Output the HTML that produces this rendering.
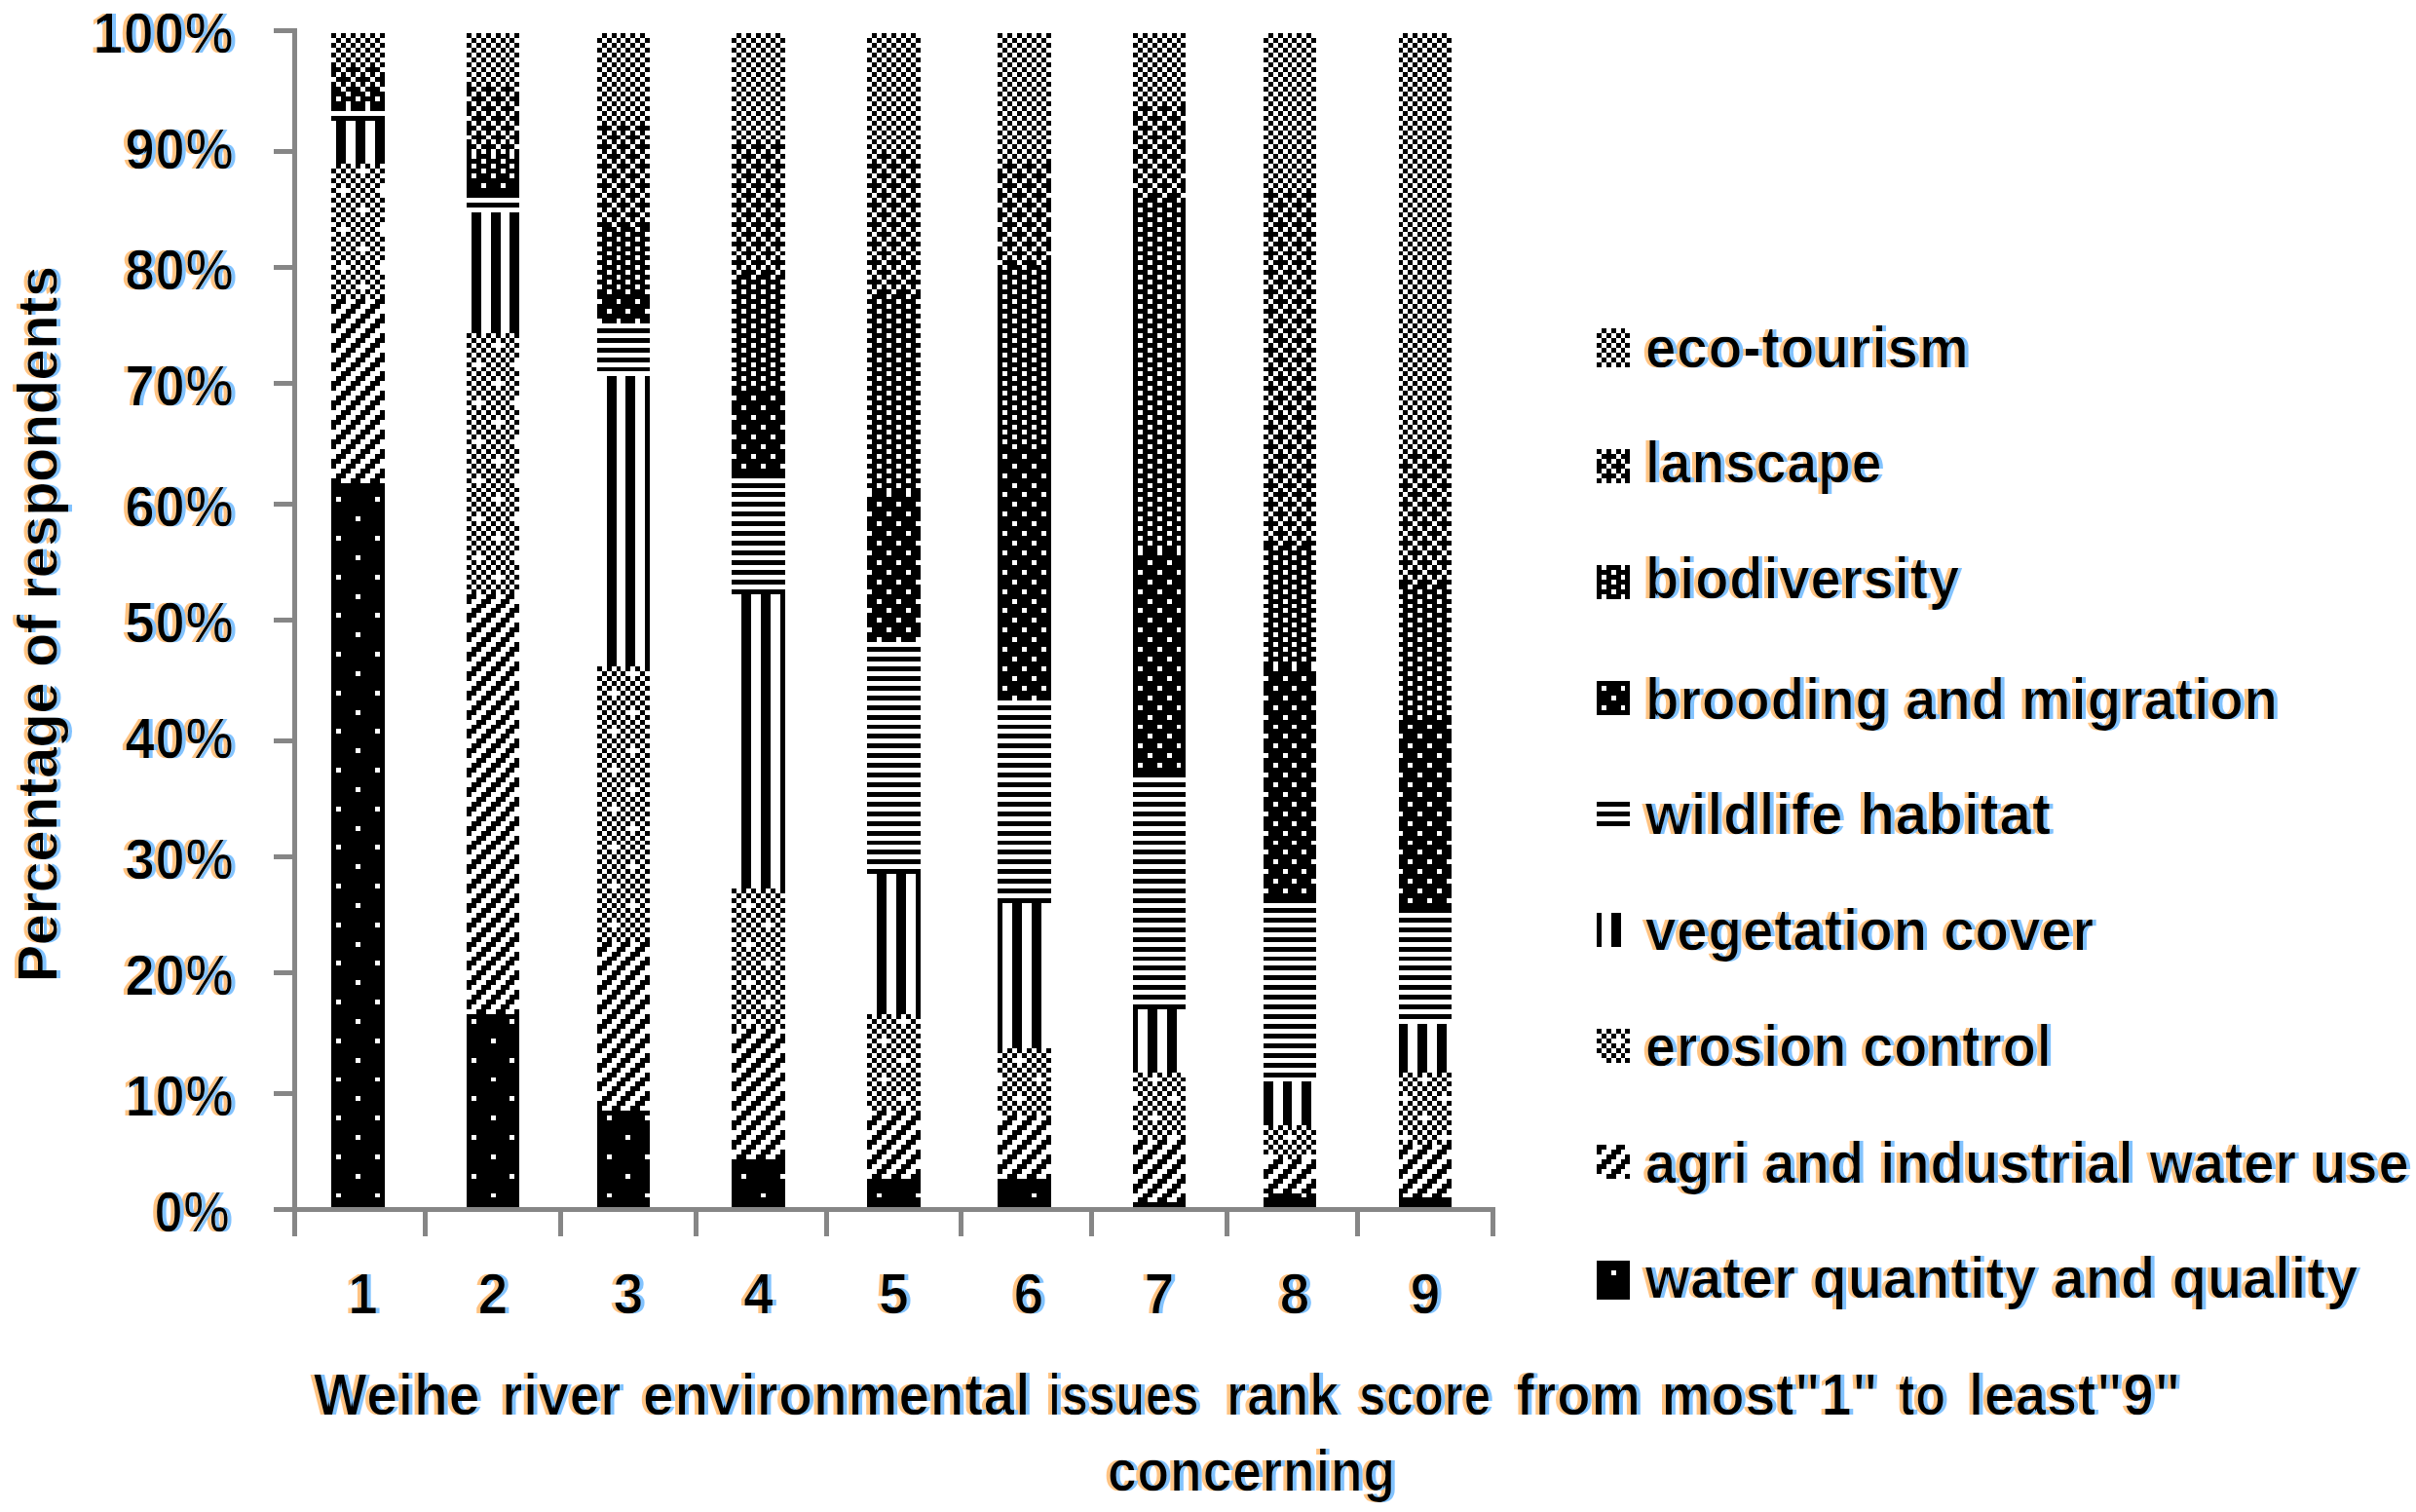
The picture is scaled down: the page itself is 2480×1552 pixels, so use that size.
<!DOCTYPE html>
<html lang="en"><head><meta charset="utf-8"><title>Weihe river environmental issues</title>
<style>
html,body{margin:0;padding:0;background:#fff;}
body{width:2480px;height:1552px;overflow:hidden;}
svg{display:block;}
text{font-family:"Liberation Sans",sans-serif;font-weight:bold;fill:#000;white-space:pre;}
.f{filter:url(#ct);}
.ax{font-size:56.5px;}
.lg{font-size:59.5px;}
</style></head>
<body>
<svg width="2480" height="1552" viewBox="0 0 2480 1552">
<defs>
<filter id="ct" x="-5%" y="-10%" width="110%" height="120%" color-interpolation-filters="sRGB"><feOffset in="SourceAlpha" dx="1" result="e1"/><feOffset in="SourceAlpha" dx="-1" result="e2"/><feComposite in="e1" in2="e2" operator="in" result="e"/><feOffset in="e" dx="-4" result="l"/><feFlood flood-color="#ffc382" result="oc"/><feComposite in="oc" in2="l" operator="in" result="lo"/><feOffset in="e" dx="4" result="r"/><feFlood flood-color="#82c3ff" result="bc"/><feComposite in="bc" in2="r" operator="in" result="rb"/><feFlood flood-color="#000" result="k"/><feComposite in="k" in2="e" operator="in" result="core"/><feMerge><feMergeNode in="lo"/><feMergeNode in="rb"/><feMergeNode in="core"/></feMerge></filter>
</defs>
<rect width="2480" height="1552" fill="#fff"/>
<g transform="translate(3.0,-0.35) scale(4.9568,4.959)" shape-rendering="crispEdges" fill="none" stroke="#000">
<path d="M68 7.5h11m-11 2h11m-11 2h11" stroke-width="1" stroke-dasharray="1 1 1 1 1 1 1 1 1 1 1 12"/>
<path d="M68 8.5h11m-11 2h11m-11 2h11" stroke-width="1" stroke-dasharray="0 1 1 1 1 1 1 1 1 1 1 13"/>
<path d="M68 13.5h11m-11 2h11m-11 2h11" stroke-width="1" stroke-dasharray="1 1 1 1 1 1 1 1 1 1 1 12"/>
<path d="M68 14.5h11m-11 4h11" stroke-width="1" stroke-dasharray="2 1 3 1 3 13"/>
<path d="M68 16.5h11" stroke-width="1" stroke-dasharray="0 1 3 1 3 1 2 12"/>
<path d="M68 19.5h11m-11 2h11" stroke-width="1" stroke-dasharray="3 1 3 1 3 12"/>
<path d="M68 20.5h11" stroke-width="1" stroke-dasharray="1 1 3 1 3 1 1 12"/>
<path d="M68 22.5h11" stroke-width="1" stroke-dasharray="3 1 3 1 3 12"/>
<path d="M68 24.5h11" stroke-width="1"/>
<path d="M68 29.5h11" stroke-width="9" stroke-dasharray="0 1 2 2 2 2 2 12"/>
<path d="M68 34.5h11m-11 2h11m-11 2h11m-11 2h11m-11 2h11m-11 2h11m-11 2h11m-11 2h11m-11 2h11m-11 2h11m-11 2h11m-11 2h11m-11 2h11m-11 2h11" stroke-width="1" stroke-dasharray="0 1 1 1 1 1 1 1 1 1 1 13"/>
<path d="M68 35.5h11m-11 8h11m-11 8h11m-11 8h11" stroke-width="1" stroke-dasharray="1 1 1 1 1 3 1 1 1 12"/>
<path d="M68 37.5h11m-11 4h11m-11 4h11m-11 4h11m-11 4h11m-11 4h11m-11 4h11" stroke-width="1" stroke-dasharray="1 1 1 1 1 1 1 1 1 1 1 12"/>
<path d="M68 39.5h11m-11 8h11m-11 8h11" stroke-width="1" stroke-dasharray="1 3 1 1 1 1 1 14"/>
<path d="M68 62.5h11m-11 4h11m-11 4h11m-11 4h11m-11 4h11m-11 4h11m-11 4h11m-11 4h11m-11 4h11m-11 4h11" stroke-width="1" stroke-dasharray="0 1 2 2 2 2 2 12"/>
<path d="M68 63.5h11m-11 4h11m-11 4h11m-11 4h11m-11 4h11m-11 4h11m-11 4h11m-11 4h11m-11 4h11m-11 4h11" stroke-width="1" stroke-dasharray="2 2 2 2 2 13"/>
<path d="M68 64.5h11m-11 4h11m-11 4h11m-11 4h11m-11 4h11m-11 4h11m-11 4h11m-11 4h11m-11 4h11" stroke-width="1" stroke-dasharray="1 2 2 2 2 14"/>
<path d="M68 65.5h11m-11 4h11m-11 4h11m-11 4h11m-11 4h11m-11 4h11m-11 4h11m-11 4h11m-11 4h11" stroke-width="1" stroke-dasharray="0 2 2 2 2 2 1 12"/>
<path d="M68 100.5h11m-11 1h11m-11 1h11m-11 2h11m-11 1h11m-11 1h11m-11 2h11m-11 1h11m-11 1h11m-11 2h11m-11 1h11m-11 1h11m-11 2h11m-11 1h11m-11 1h11m-11 2h11m-11 1h11m-11 1h11m-11 2h11m-11 1h11m-11 1h11m-11 2h11m-11 1h11m-11 1h11m-11 2h11m-11 1h11m-11 1h11m-11 2h11m-11 1h11m-11 1h11m-11 2h11m-11 1h11m-11 1h11m-11 2h11m-11 1h11m-11 1h11m-11 2h11m-11 1h11m-11 1h11m-11 2h11m-11 1h11m-11 1h11m-11 2h11m-11 1h11m-11 1h11m-11 2h11m-11 1h11m-11 1h11m-11 2h11m-11 1h11m-11 1h11m-11 2h11m-11 1h11m-11 1h11m-11 2h11m-11 1h11m-11 1h11m-11 2h11m-11 1h11m-11 1h11m-11 2h11m-11 1h11m-11 1h11m-11 2h11m-11 1h11m-11 1h11m-11 2h11m-11 1h11m-11 1h11m-11 2h11m-11 1h11m-11 1h11m-11 2h11m-11 1h11m-11 1h11m-11 2h11m-11 1h11m-11 1h11m-11 2h11m-11 1h11m-11 1h11m-11 2h11m-11 1h11m-11 1h11m-11 2h11m-11 1h11m-11 1h11m-11 2h11m-11 1h11m-11 1h11m-11 2h11m-11 1h11m-11 1h11m-11 2h11m-11 1h11m-11 1h11m-11 2h11m-11 1h11m-11 1h11m-11 2h11m-11 1h11m-11 1h11m-11 2h11m-11 1h11m-11 1h11m-11 2h11m-11 1h11m-11 1h11m-11 2h11m-11 1h11m-11 1h11m-11 2h11m-11 1h11" stroke-width="1"/>
<path d="M68 103.5h11m-11 8h11m-11 8h11m-11 8h11m-11 8h11m-11 8h11m-11 8h11m-11 8h11m-11 8h11m-11 8h11m-11 8h11m-11 8h11m-11 8h11m-11 8h11m-11 8h11m-11 8h11m-11 8h11m-11 8h11m-11 8h11" stroke-width="1" stroke-dasharray="1 1 7 1 1 12"/>
<path d="M68 107.5h11m-11 8h11m-11 8h11m-11 8h11m-11 8h11m-11 8h11m-11 8h11m-11 8h11m-11 8h11m-11 8h11m-11 8h11m-11 8h11m-11 8h11m-11 8h11m-11 8h11m-11 8h11m-11 8h11m-11 8h11" stroke-width="1" stroke-dasharray="5 1 5 12"/>
<path d="M96 7.5h11m-11 2h11m-11 2h11m-11 2h11m-11 2h11" stroke-width="1" stroke-dasharray="1 1 1 1 1 1 1 1 1 1 1 12"/>
<path d="M96 8.5h11m-11 2h11m-11 2h11m-11 2h11m-11 2h11" stroke-width="1" stroke-dasharray="0 1 1 1 1 1 1 1 1 1 1 13"/>
<path d="M96 17.5h11m-11 2h11m-11 2h11m-11 2h11m-11 2h11m-11 2h11m-11 2h11m-11 2h11" stroke-width="1" stroke-dasharray="1 1 1 1 1 1 1 1 1 1 1 12"/>
<path d="M96 18.5h11m-11 4h11m-11 4h11m-11 4h11" stroke-width="1" stroke-dasharray="2 1 3 1 3 13"/>
<path d="M96 20.5h11m-11 4h11m-11 4h11" stroke-width="1" stroke-dasharray="0 1 3 1 3 1 2 12"/>
<path d="M96 32.5h11m-11 2h11m-11 2h11" stroke-width="1" stroke-dasharray="1 1 3 1 3 1 1 12"/>
<path d="M96 33.5h11m-11 2h11" stroke-width="1" stroke-dasharray="3 1 3 1 3 12"/>
<path d="M96 37.5h11m-11 2h11" stroke-width="1"/>
<path d="M96 38.5h11" stroke-width="1" stroke-dasharray="3 1 3 1 3 12"/>
<path d="M96 40.5h11m-11 2h11" stroke-width="1"/>
<path d="M96 56.5h11" stroke-width="25" stroke-dasharray="0 1 2 2 2 2 2 12"/>
<path d="M96 69.5h11m-11 4h11m-11 4h11m-11 4h11m-11 4h11m-11 4h11m-11 4h11m-11 4h11m-11 4h11m-11 4h11m-11 4h11m-11 4h11m-11 4h11m-11 4h11" stroke-width="1" stroke-dasharray="1 1 1 1 1 1 1 1 1 1 1 12"/>
<path d="M96 70.5h11m-11 2h11m-11 2h11m-11 2h11m-11 2h11m-11 2h11m-11 2h11m-11 2h11m-11 2h11m-11 2h11m-11 2h11m-11 2h11m-11 2h11m-11 2h11m-11 2h11m-11 2h11m-11 2h11m-11 2h11m-11 2h11m-11 2h11m-11 2h11m-11 2h11m-11 2h11m-11 2h11m-11 2h11m-11 2h11m-11 2h11" stroke-width="1" stroke-dasharray="0 1 1 1 1 1 1 1 1 1 1 13"/>
<path d="M96 71.5h11m-11 8h11m-11 8h11m-11 8h11m-11 8h11m-11 8h11m-11 8h11" stroke-width="1" stroke-dasharray="1 1 1 1 1 3 1 1 1 12"/>
<path d="M96 75.5h11m-11 8h11m-11 8h11m-11 8h11m-11 8h11m-11 8h11" stroke-width="1" stroke-dasharray="1 3 1 1 1 1 1 14"/>
<path d="M96 123.5h11m-11 4h11m-11 4h11m-11 4h11m-11 4h11m-11 4h11m-11 4h11m-11 4h11m-11 4h11m-11 4h11m-11 4h11m-11 4h11m-11 4h11m-11 4h11m-11 4h11m-11 4h11m-11 4h11m-11 4h11m-11 4h11m-11 4h11m-11 4h11m-11 4h11" stroke-width="1" stroke-dasharray="2 2 2 2 2 13"/>
<path d="M96 124.5h11m-11 4h11m-11 4h11m-11 4h11m-11 4h11m-11 4h11m-11 4h11m-11 4h11m-11 4h11m-11 4h11m-11 4h11m-11 4h11m-11 4h11m-11 4h11m-11 4h11m-11 4h11m-11 4h11m-11 4h11m-11 4h11m-11 4h11m-11 4h11m-11 4h11" stroke-width="1" stroke-dasharray="1 2 2 2 2 14"/>
<path d="M96 125.5h11m-11 4h11m-11 4h11m-11 4h11m-11 4h11m-11 4h11m-11 4h11m-11 4h11m-11 4h11m-11 4h11m-11 4h11m-11 4h11m-11 4h11m-11 4h11m-11 4h11m-11 4h11m-11 4h11m-11 4h11m-11 4h11m-11 4h11m-11 4h11m-11 4h11" stroke-width="1" stroke-dasharray="0 2 2 2 2 2 1 12"/>
<path d="M96 126.5h11m-11 4h11m-11 4h11m-11 4h11m-11 4h11m-11 4h11m-11 4h11m-11 4h11m-11 4h11m-11 4h11m-11 4h11m-11 4h11m-11 4h11m-11 4h11m-11 4h11m-11 4h11m-11 4h11m-11 4h11m-11 4h11m-11 4h11m-11 4h11" stroke-width="1" stroke-dasharray="0 1 2 2 2 2 2 12"/>
<path d="M96 210.5h11m-11 2h11m-11 1h11m-11 1h11m-11 2h11m-11 1h11m-11 1h11m-11 2h11m-11 1h11m-11 1h11m-11 2h11m-11 1h11m-11 1h11m-11 2h11m-11 1h11m-11 1h11m-11 2h11m-11 1h11m-11 1h11m-11 2h11m-11 1h11m-11 1h11m-11 2h11m-11 1h11m-11 1h11m-11 2h11m-11 1h11m-11 1h11m-11 2h11m-11 1h11" stroke-width="1"/>
<path d="M96 211.5h11m-11 8h11m-11 8h11m-11 8h11m-11 8h11" stroke-width="1" stroke-dasharray="1 1 7 1 1 12"/>
<path d="M96 215.5h11m-11 8h11m-11 8h11m-11 8h11m-11 8h11" stroke-width="1" stroke-dasharray="5 1 5 12"/>
<path d="M123 7.5h11m-11 2h11m-11 2h11m-11 2h11m-11 2h11m-11 2h11m-11 2h11m-11 2h11m-11 2h11" stroke-width="1" stroke-dasharray="0 1 1 1 1 1 1 1 1 1 1 13"/>
<path d="M123 8.5h11m-11 2h11m-11 2h11m-11 2h11m-11 2h11m-11 2h11m-11 2h11m-11 2h11m-11 2h11" stroke-width="1" stroke-dasharray="1 1 1 1 1 1 1 1 1 1 1 12"/>
<path d="M123 25.5h11m-11 2h11m-11 2h11m-11 2h11m-11 2h11m-11 2h11m-11 2h11m-11 2h11m-11 2h11m-11 2h11m-11 2h11" stroke-width="1" stroke-dasharray="0 1 1 1 1 1 1 1 1 1 1 13"/>
<path d="M123 26.5h11m-11 4h11m-11 4h11m-11 4h11m-11 4h11m-11 4h11" stroke-width="1" stroke-dasharray="3 1 3 1 3 12"/>
<path d="M123 28.5h11m-11 4h11m-11 4h11m-11 4h11m-11 4h11" stroke-width="1" stroke-dasharray="1 1 3 1 3 1 1 12"/>
<path d="M123 47.5h11m-11 2h11m-11 2h11m-11 2h11m-11 2h11m-11 2h11m-11 2h11" stroke-width="1" stroke-dasharray="0 1 3 1 3 1 2 12"/>
<path d="M123 48.5h11m-11 2h11m-11 2h11m-11 2h11m-11 2h11m-11 2h11m-11 2h11" stroke-width="1" stroke-dasharray="2 1 3 1 3 13"/>
<path d="M123 61.5h11m-11 2h11m-11 2h11" stroke-width="1"/>
<path d="M123 62.5h11m-11 4h11" stroke-width="1" stroke-dasharray="0 1 3 1 3 1 2 12"/>
<path d="M123 64.5h11" stroke-width="1" stroke-dasharray="2 1 3 1 3 13"/>
<path d="M123 68.5h11m-11 2h11m-11 2h11m-11 2h11m-11 2h11" stroke-width="1"/>
<path d="M123 108h11" stroke-width="60" stroke-dasharray="0 2 2 2 2 2 1 12"/>
<path d="M123 138.5h11m-11 2h11m-11 2h11m-11 2h11m-11 2h11m-11 2h11m-11 2h11m-11 2h11m-11 2h11m-11 2h11m-11 2h11m-11 2h11m-11 2h11m-11 2h11m-11 2h11m-11 2h11m-11 2h11m-11 2h11m-11 2h11m-11 2h11m-11 2h11m-11 2h11m-11 2h11m-11 2h11m-11 2h11m-11 2h11m-11 2h11m-11 2h11m-11 2h11" stroke-width="1" stroke-dasharray="1 1 1 1 1 1 1 1 1 1 1 12"/>
<path d="M123 139.5h11m-11 8h11m-11 8h11m-11 8h11m-11 8h11m-11 8h11m-11 8h11" stroke-width="1" stroke-dasharray="0 1 1 1 1 1 1 3 1 13"/>
<path d="M123 141.5h11m-11 4h11m-11 4h11m-11 4h11m-11 4h11m-11 4h11m-11 4h11m-11 4h11m-11 4h11m-11 4h11m-11 4h11m-11 4h11m-11 4h11m-11 4h11" stroke-width="1" stroke-dasharray="0 1 1 1 1 1 1 1 1 1 1 13"/>
<path d="M123 143.5h11m-11 8h11m-11 8h11m-11 8h11m-11 8h11m-11 8h11m-11 8h11" stroke-width="1" stroke-dasharray="0 1 1 3 1 1 1 1 1 13"/>
<path d="M123 195.5h11m-11 4h11m-11 4h11m-11 4h11m-11 4h11m-11 4h11m-11 4h11m-11 4h11m-11 4h11" stroke-width="1" stroke-dasharray="0 1 2 2 2 2 2 12"/>
<path d="M123 196.5h11m-11 4h11m-11 4h11m-11 4h11m-11 4h11m-11 4h11m-11 4h11m-11 4h11m-11 4h11" stroke-width="1" stroke-dasharray="2 2 2 2 2 13"/>
<path d="M123 197.5h11m-11 4h11m-11 4h11m-11 4h11m-11 4h11m-11 4h11m-11 4h11m-11 4h11m-11 4h11" stroke-width="1" stroke-dasharray="1 2 2 2 2 14"/>
<path d="M123 198.5h11m-11 4h11m-11 4h11m-11 4h11m-11 4h11m-11 4h11m-11 4h11m-11 4h11" stroke-width="1" stroke-dasharray="0 2 2 2 2 2 1 12"/>
<path d="M123 230.5h11m-11 2h11m-11 1h11m-11 1h11m-11 2h11m-11 1h11m-11 1h11m-11 2h11m-11 1h11m-11 1h11m-11 2h11m-11 1h11m-11 1h11m-11 2h11m-11 1h11" stroke-width="1"/>
<path d="M123 231.5h11m-11 8h11m-11 8h11" stroke-width="1" stroke-dasharray="2 1 7 13"/>
<path d="M123 235.5h11m-11 8h11" stroke-width="1" stroke-dasharray="6 1 4 12"/>
<path d="M151 7.5h11m-11 2h11m-11 2h11m-11 2h11m-11 2h11m-11 2h11m-11 2h11m-11 2h11m-11 2h11m-11 2h11m-11 2h11m-11 2h11" stroke-width="1" stroke-dasharray="0 1 1 1 1 1 1 1 1 1 1 13"/>
<path d="M151 8.5h11m-11 2h11m-11 2h11m-11 2h11m-11 2h11m-11 2h11m-11 2h11m-11 2h11m-11 2h11m-11 2h11m-11 2h11" stroke-width="1" stroke-dasharray="1 1 1 1 1 1 1 1 1 1 1 12"/>
<path d="M151 30.5h11m-11 4h11m-11 4h11m-11 4h11m-11 4h11m-11 4h11m-11 4h11" stroke-width="1" stroke-dasharray="3 1 3 1 3 12"/>
<path d="M151 31.5h11m-11 2h11m-11 2h11m-11 2h11m-11 2h11m-11 2h11m-11 2h11m-11 2h11m-11 2h11m-11 2h11m-11 2h11m-11 2h11m-11 2h11" stroke-width="1" stroke-dasharray="0 1 1 1 1 1 1 1 1 1 1 13"/>
<path d="M151 32.5h11m-11 4h11m-11 4h11m-11 4h11m-11 4h11m-11 4h11m-11 4h11" stroke-width="1" stroke-dasharray="1 1 3 1 3 1 1 12"/>
<path d="M151 57.5h11m-11 2h11m-11 2h11m-11 2h11m-11 2h11m-11 2h11m-11 2h11m-11 2h11m-11 2h11m-11 2h11m-11 2h11m-11 2h11" stroke-width="1" stroke-dasharray="0 1 3 1 3 1 2 12"/>
<path d="M151 58.5h11m-11 2h11m-11 2h11m-11 2h11m-11 2h11m-11 2h11m-11 2h11m-11 2h11m-11 2h11m-11 2h11m-11 2h11m-11 2h11" stroke-width="1" stroke-dasharray="2 1 3 1 3 13"/>
<path d="M151 81.5h11m-11 2h11m-11 2h11m-11 2h11m-11 2h11m-11 2h11m-11 2h11m-11 2h11m-11 2h11" stroke-width="1"/>
<path d="M151 82.5h11m-11 4h11m-11 4h11m-11 4h11" stroke-width="1" stroke-dasharray="0 1 3 1 3 1 2 12"/>
<path d="M151 84.5h11m-11 4h11m-11 4h11m-11 4h11" stroke-width="1" stroke-dasharray="2 1 3 1 3 13"/>
<path d="M151 98.5h11m-11 2h11m-11 2h11m-11 2h11m-11 2h11m-11 2h11m-11 2h11m-11 2h11m-11 2h11m-11 2h11m-11 2h11m-11 2h11m-11 2h11" stroke-width="1"/>
<path d="M151 153.5h11" stroke-width="61" stroke-dasharray="0 2 2 2 2 2 1 12"/>
<path d="M151 184.5h11m-11 2h11m-11 2h11m-11 2h11m-11 2h11m-11 2h11m-11 2h11m-11 2h11m-11 2h11m-11 2h11m-11 2h11m-11 2h11m-11 2h11m-11 2h11m-11 2h11" stroke-width="1" stroke-dasharray="1 1 1 1 1 1 1 1 1 1 1 12"/>
<path d="M151 185.5h11m-11 4h11m-11 4h11m-11 4h11m-11 4h11m-11 4h11m-11 4h11" stroke-width="1" stroke-dasharray="0 1 1 1 1 1 1 1 1 1 1 13"/>
<path d="M151 187.5h11m-11 8h11m-11 8h11m-11 8h11" stroke-width="1" stroke-dasharray="0 1 1 3 1 1 1 1 1 13"/>
<path d="M151 191.5h11m-11 8h11m-11 8h11" stroke-width="1" stroke-dasharray="0 1 1 1 1 1 1 3 1 13"/>
<path d="M151 213.5h11m-11 4h11m-11 4h11m-11 4h11m-11 4h11m-11 4h11m-11 4h11" stroke-width="1" stroke-dasharray="1 2 2 2 2 14"/>
<path d="M151 214.5h11m-11 4h11m-11 4h11m-11 4h11m-11 4h11m-11 4h11m-11 4h11" stroke-width="1" stroke-dasharray="0 2 2 2 2 2 1 12"/>
<path d="M151 215.5h11m-11 4h11m-11 4h11m-11 4h11m-11 4h11m-11 4h11m-11 4h11" stroke-width="1" stroke-dasharray="0 1 2 2 2 2 2 12"/>
<path d="M151 216.5h11m-11 4h11m-11 4h11m-11 4h11m-11 4h11m-11 4h11" stroke-width="1" stroke-dasharray="2 2 2 2 2 13"/>
<path d="M151 240.5h11m-11 1h11m-11 1h11m-11 2h11m-11 1h11m-11 1h11m-11 2h11m-11 1h11" stroke-width="1"/>
<path d="M151 243.5h11" stroke-width="1" stroke-dasharray="2 1 7 13"/>
<path d="M151 247.5h11" stroke-width="1" stroke-dasharray="6 1 4 12"/>
<path d="M179 7.5h11m-11 2h11m-11 2h11m-11 2h11m-11 2h11m-11 2h11m-11 2h11m-11 2h11m-11 2h11m-11 2h11m-11 2h11m-11 2h11" stroke-width="1" stroke-dasharray="0 1 1 1 1 1 1 1 1 1 1 13"/>
<path d="M179 8.5h11m-11 2h11m-11 2h11m-11 2h11m-11 2h11m-11 2h11m-11 2h11m-11 2h11m-11 2h11m-11 2h11m-11 2h11m-11 2h11" stroke-width="1" stroke-dasharray="1 1 1 1 1 1 1 1 1 1 1 12"/>
<path d="M179 31.5h11m-11 2h11m-11 2h11m-11 2h11m-11 2h11m-11 2h11m-11 2h11m-11 2h11m-11 2h11m-11 2h11m-11 2h11m-11 2h11m-11 2h11m-11 2h11m-11 2h11" stroke-width="1" stroke-dasharray="0 1 1 1 1 1 1 1 1 1 1 13"/>
<path d="M179 32.5h11m-11 4h11m-11 4h11m-11 4h11m-11 4h11m-11 4h11m-11 4h11m-11 4h11" stroke-width="1" stroke-dasharray="1 1 3 1 3 1 1 12"/>
<path d="M179 34.5h11m-11 4h11m-11 4h11m-11 4h11m-11 4h11m-11 4h11m-11 4h11" stroke-width="1" stroke-dasharray="3 1 3 1 3 12"/>
<path d="M179 61.5h11m-11 2h11m-11 2h11m-11 2h11m-11 2h11m-11 2h11m-11 2h11m-11 2h11m-11 2h11m-11 2h11m-11 2h11m-11 2h11m-11 2h11m-11 2h11m-11 2h11m-11 2h11m-11 2h11m-11 2h11m-11 2h11m-11 2h11m-11 2h11" stroke-width="1" stroke-dasharray="0 1 3 1 3 1 2 12"/>
<path d="M179 62.5h11m-11 2h11m-11 2h11m-11 2h11m-11 2h11m-11 2h11m-11 2h11m-11 2h11m-11 2h11m-11 2h11m-11 2h11m-11 2h11m-11 2h11m-11 2h11m-11 2h11m-11 2h11m-11 2h11m-11 2h11m-11 2h11m-11 2h11" stroke-width="1" stroke-dasharray="2 1 3 1 3 13"/>
<path d="M179 102.5h11m-11 4h11m-11 4h11m-11 4h11m-11 4h11m-11 4h11m-11 4h11m-11 4h11" stroke-width="1" stroke-dasharray="0 1 3 1 3 1 2 12"/>
<path d="M179 103.5h11m-11 2h11m-11 2h11m-11 2h11m-11 2h11m-11 2h11m-11 2h11m-11 2h11m-11 2h11m-11 2h11m-11 2h11m-11 2h11m-11 2h11m-11 2h11m-11 2h11" stroke-width="1"/>
<path d="M179 104.5h11m-11 4h11m-11 4h11m-11 4h11m-11 4h11m-11 4h11m-11 4h11m-11 4h11" stroke-width="1" stroke-dasharray="2 1 3 1 3 13"/>
<path d="M179 134.5h11m-11 2h11m-11 2h11m-11 2h11m-11 2h11m-11 2h11m-11 2h11m-11 2h11m-11 2h11m-11 2h11m-11 2h11m-11 2h11m-11 2h11m-11 2h11m-11 2h11m-11 2h11m-11 2h11m-11 2h11m-11 2h11m-11 2h11m-11 2h11m-11 2h11m-11 2h11m-11 2h11" stroke-width="1"/>
<path d="M179 195.5h11" stroke-width="29" stroke-dasharray="0 2 2 2 2 2 1 12"/>
<path d="M179 210.5h11m-11 2h11m-11 2h11m-11 2h11m-11 2h11m-11 2h11m-11 2h11m-11 2h11m-11 2h11m-11 2h11" stroke-width="1" stroke-dasharray="1 1 1 1 1 1 1 1 1 1 1 12"/>
<path d="M179 211.5h11m-11 8h11m-11 8h11" stroke-width="1" stroke-dasharray="0 1 1 1 1 1 1 3 1 13"/>
<path d="M179 213.5h11m-11 4h11m-11 4h11m-11 4h11m-11 4h11" stroke-width="1" stroke-dasharray="0 1 1 1 1 1 1 1 1 1 1 13"/>
<path d="M179 215.5h11m-11 8h11" stroke-width="1" stroke-dasharray="0 1 1 3 1 1 1 1 1 13"/>
<path d="M179 230.5h11m-11 4h11m-11 4h11m-11 4h11" stroke-width="1" stroke-dasharray="0 2 2 2 2 2 1 12"/>
<path d="M179 231.5h11m-11 4h11m-11 4h11m-11 4h11" stroke-width="1" stroke-dasharray="0 1 2 2 2 2 2 12"/>
<path d="M179 232.5h11m-11 4h11m-11 4h11" stroke-width="1" stroke-dasharray="2 2 2 2 2 13"/>
<path d="M179 233.5h11m-11 4h11m-11 4h11" stroke-width="1" stroke-dasharray="1 2 2 2 2 14"/>
<path d="M179 244.5h11m-11 1h11m-11 1h11m-11 2h11m-11 1h11" stroke-width="1"/>
<path d="M179 247.5h11" stroke-width="1" stroke-dasharray="2 1 7 13"/>
<path d="M206 7.5h11m-11 2h11m-11 2h11m-11 2h11m-11 2h11m-11 2h11m-11 2h11m-11 2h11m-11 2h11m-11 2h11m-11 2h11m-11 2h11m-11 2h11" stroke-width="1" stroke-dasharray="1 1 1 1 1 1 1 1 1 1 1 12"/>
<path d="M206 8.5h11m-11 2h11m-11 2h11m-11 2h11m-11 2h11m-11 2h11m-11 2h11m-11 2h11m-11 2h11m-11 2h11m-11 2h11m-11 2h11m-11 2h11" stroke-width="1" stroke-dasharray="0 1 1 1 1 1 1 1 1 1 1 13"/>
<path d="M206 33.5h11m-11 2h11m-11 2h11m-11 2h11m-11 2h11m-11 2h11m-11 2h11m-11 2h11m-11 2h11m-11 2h11m-11 2h11" stroke-width="1" stroke-dasharray="1 1 1 1 1 1 1 1 1 1 1 12"/>
<path d="M206 34.5h11m-11 4h11m-11 4h11m-11 4h11m-11 4h11m-11 4h11" stroke-width="1" stroke-dasharray="0 1 3 1 3 1 2 12"/>
<path d="M206 36.5h11m-11 4h11m-11 4h11m-11 4h11m-11 4h11" stroke-width="1" stroke-dasharray="2 1 3 1 3 13"/>
<path d="M206 55.5h11m-11 2h11m-11 2h11m-11 2h11m-11 2h11m-11 2h11m-11 2h11m-11 2h11m-11 2h11m-11 2h11m-11 2h11m-11 2h11m-11 2h11m-11 2h11m-11 2h11m-11 2h11m-11 2h11m-11 2h11m-11 2h11" stroke-width="1" stroke-dasharray="1 1 3 1 3 1 1 12"/>
<path d="M206 56.5h11m-11 2h11m-11 2h11m-11 2h11m-11 2h11m-11 2h11m-11 2h11m-11 2h11m-11 2h11m-11 2h11m-11 2h11m-11 2h11m-11 2h11m-11 2h11m-11 2h11m-11 2h11m-11 2h11m-11 2h11m-11 2h11" stroke-width="1" stroke-dasharray="3 1 3 1 3 12"/>
<path d="M206 93.5h11m-11 2h11m-11 2h11m-11 2h11m-11 2h11m-11 2h11m-11 2h11m-11 2h11m-11 2h11m-11 2h11m-11 2h11m-11 2h11m-11 2h11m-11 2h11m-11 2h11m-11 2h11m-11 2h11m-11 2h11m-11 2h11m-11 2h11m-11 2h11m-11 2h11m-11 2h11m-11 2h11m-11 2h11m-11 2h11" stroke-width="1"/>
<path d="M206 94.5h11m-11 4h11m-11 4h11m-11 4h11m-11 4h11m-11 4h11m-11 4h11m-11 4h11m-11 4h11m-11 4h11m-11 4h11m-11 4h11m-11 4h11" stroke-width="1" stroke-dasharray="1 1 3 1 3 1 1 12"/>
<path d="M206 96.5h11m-11 4h11m-11 4h11m-11 4h11m-11 4h11m-11 4h11m-11 4h11m-11 4h11m-11 4h11m-11 4h11m-11 4h11m-11 4h11m-11 4h11" stroke-width="1" stroke-dasharray="3 1 3 1 3 12"/>
<path d="M206 146.5h11m-11 2h11m-11 2h11m-11 2h11m-11 2h11m-11 2h11m-11 2h11m-11 2h11m-11 2h11m-11 2h11m-11 2h11m-11 2h11m-11 2h11m-11 2h11m-11 2h11m-11 2h11m-11 2h11m-11 2h11m-11 2h11m-11 2h11m-11 2h11" stroke-width="1"/>
<path d="M206 202h11" stroke-width="30" stroke-dasharray="1 2 2 2 2 14"/>
<path d="M206 217.5h11m-11 4h11m-11 4h11m-11 4h11" stroke-width="1" stroke-dasharray="1 1 1 1 1 1 1 1 1 1 1 12"/>
<path d="M206 218.5h11m-11 2h11m-11 2h11m-11 2h11m-11 2h11m-11 2h11m-11 2h11" stroke-width="1" stroke-dasharray="0 1 1 1 1 1 1 1 1 1 1 13"/>
<path d="M206 219.5h11m-11 8h11" stroke-width="1" stroke-dasharray="1 1 1 3 1 1 1 1 1 12"/>
<path d="M206 223.5h11" stroke-width="1" stroke-dasharray="0 2 1 1 1 1 1 3 1 12"/>
<path d="M206 231.5h11m-11 4h11m-11 4h11m-11 4h11" stroke-width="1" stroke-dasharray="0 2 2 2 2 2 1 12"/>
<path d="M206 232.5h11m-11 4h11m-11 4h11" stroke-width="1" stroke-dasharray="0 1 2 2 2 2 2 12"/>
<path d="M206 233.5h11m-11 4h11m-11 4h11" stroke-width="1" stroke-dasharray="2 2 2 2 2 13"/>
<path d="M206 234.5h11m-11 4h11m-11 4h11" stroke-width="1" stroke-dasharray="1 2 2 2 2 14"/>
<path d="M206 244.5h11m-11 1h11m-11 1h11m-11 2h11m-11 1h11" stroke-width="1"/>
<path d="M206 247.5h11" stroke-width="1" stroke-dasharray="7 1 3 12"/>
<path d="M234 7.5h11m-11 2h11m-11 2h11m-11 2h11m-11 2h11m-11 2h11m-11 2h11" stroke-width="1" stroke-dasharray="1 1 1 1 1 1 1 1 1 1 1 12"/>
<path d="M234 8.5h11m-11 2h11m-11 2h11m-11 2h11m-11 2h11m-11 2h11m-11 2h11" stroke-width="1" stroke-dasharray="0 1 1 1 1 1 1 1 1 1 1 13"/>
<path d="M234 21.5h11m-11 2h11m-11 2h11m-11 2h11m-11 2h11m-11 2h11m-11 2h11m-11 2h11m-11 2h11m-11 2h11" stroke-width="1" stroke-dasharray="1 1 1 1 1 1 1 1 1 1 1 12"/>
<path d="M234 22.5h11m-11 4h11m-11 4h11m-11 4h11m-11 4h11" stroke-width="1" stroke-dasharray="0 1 3 1 3 1 2 12"/>
<path d="M234 24.5h11m-11 4h11m-11 4h11m-11 4h11m-11 4h11" stroke-width="1" stroke-dasharray="2 1 3 1 3 13"/>
<path d="M234 41.5h11m-11 2h11m-11 2h11m-11 2h11m-11 2h11m-11 2h11m-11 2h11m-11 2h11m-11 2h11m-11 2h11m-11 2h11m-11 2h11m-11 2h11m-11 2h11m-11 2h11m-11 2h11m-11 2h11m-11 2h11m-11 2h11m-11 2h11m-11 2h11m-11 2h11m-11 2h11m-11 2h11m-11 2h11m-11 2h11m-11 2h11m-11 2h11m-11 2h11m-11 2h11m-11 2h11m-11 2h11m-11 2h11m-11 2h11m-11 2h11m-11 2h11m-11 2h11" stroke-width="1" stroke-dasharray="1 1 3 1 3 1 1 12"/>
<path d="M234 42.5h11m-11 2h11m-11 2h11m-11 2h11m-11 2h11m-11 2h11m-11 2h11m-11 2h11m-11 2h11m-11 2h11m-11 2h11m-11 2h11m-11 2h11m-11 2h11m-11 2h11m-11 2h11m-11 2h11m-11 2h11m-11 2h11m-11 2h11m-11 2h11m-11 2h11m-11 2h11m-11 2h11m-11 2h11m-11 2h11m-11 2h11m-11 2h11m-11 2h11m-11 2h11m-11 2h11m-11 2h11m-11 2h11m-11 2h11m-11 2h11m-11 2h11" stroke-width="1" stroke-dasharray="3 1 3 1 3 12"/>
<path d="M234 114.5h11m-11 4h11m-11 4h11m-11 4h11m-11 4h11m-11 4h11m-11 4h11m-11 4h11m-11 4h11m-11 4h11m-11 4h11m-11 4h11" stroke-width="1" stroke-dasharray="1 1 3 1 3 1 1 12"/>
<path d="M234 115.5h11m-11 2h11m-11 2h11m-11 2h11m-11 2h11m-11 2h11m-11 2h11m-11 2h11m-11 2h11m-11 2h11m-11 2h11m-11 2h11m-11 2h11m-11 2h11m-11 2h11m-11 2h11m-11 2h11m-11 2h11m-11 2h11m-11 2h11m-11 2h11m-11 2h11m-11 2h11" stroke-width="1"/>
<path d="M234 116.5h11m-11 4h11m-11 4h11m-11 4h11m-11 4h11m-11 4h11m-11 4h11m-11 4h11m-11 4h11m-11 4h11m-11 4h11" stroke-width="1" stroke-dasharray="3 1 3 1 3 12"/>
<path d="M234 160.5h11m-11 2h11m-11 2h11m-11 2h11m-11 2h11m-11 2h11m-11 2h11m-11 2h11m-11 2h11m-11 2h11m-11 2h11m-11 2h11m-11 2h11m-11 2h11m-11 2h11m-11 2h11m-11 2h11m-11 2h11m-11 2h11m-11 2h11m-11 2h11m-11 2h11m-11 2h11m-11 2h11m-11 2h11" stroke-width="1"/>
<path d="M234 215.5h11" stroke-width="13" stroke-dasharray="1 2 2 2 2 14"/>
<path d="M234 222.5h11m-11 2h11m-11 2h11m-11 2h11m-11 2h11m-11 2h11m-11 2h11" stroke-width="1" stroke-dasharray="0 1 1 1 1 1 1 1 1 1 1 13"/>
<path d="M234 223.5h11m-11 8h11" stroke-width="1" stroke-dasharray="1 1 1 3 1 1 1 1 1 12"/>
<path d="M234 225.5h11m-11 4h11m-11 4h11" stroke-width="1" stroke-dasharray="1 1 1 1 1 1 1 1 1 1 1 12"/>
<path d="M234 227.5h11m-11 8h11" stroke-width="1" stroke-dasharray="0 2 1 1 1 1 1 3 1 12"/>
<path d="M234 236.5h11m-11 4h11m-11 4h11m-11 4h11" stroke-width="1" stroke-dasharray="0 1 2 2 2 2 2 12"/>
<path d="M234 237.5h11m-11 4h11m-11 4h11" stroke-width="1" stroke-dasharray="2 2 2 2 2 13"/>
<path d="M234 238.5h11m-11 4h11m-11 4h11" stroke-width="1" stroke-dasharray="1 2 2 2 2 14"/>
<path d="M234 239.5h11m-11 4h11m-11 4h11" stroke-width="1" stroke-dasharray="0 2 2 2 2 2 1 12"/>
<path d="M234 249.5h11" stroke-width="1"/>
<path d="M261 7.5h11m-11 2h11m-11 2h11m-11 2h11m-11 2h11m-11 2h11m-11 2h11m-11 2h11m-11 2h11m-11 2h11m-11 2h11m-11 2h11m-11 2h11m-11 2h11m-11 2h11m-11 2h11m-11 2h11" stroke-width="1" stroke-dasharray="0 1 1 1 1 1 1 1 1 1 1 13"/>
<path d="M261 8.5h11m-11 2h11m-11 2h11m-11 2h11m-11 2h11m-11 2h11m-11 2h11m-11 2h11m-11 2h11m-11 2h11m-11 2h11m-11 2h11m-11 2h11m-11 2h11m-11 2h11m-11 2h11" stroke-width="1" stroke-dasharray="1 1 1 1 1 1 1 1 1 1 1 12"/>
<path d="M261 40.5h11m-11 4h11m-11 4h11m-11 4h11m-11 4h11m-11 4h11m-11 4h11m-11 4h11m-11 4h11m-11 4h11m-11 4h11m-11 4h11m-11 4h11m-11 4h11m-11 4h11m-11 4h11m-11 4h11m-11 4h11m-11 4h11" stroke-width="1" stroke-dasharray="3 1 3 1 3 12"/>
<path d="M261 41.5h11m-11 2h11m-11 2h11m-11 2h11m-11 2h11m-11 2h11m-11 2h11m-11 2h11m-11 2h11m-11 2h11m-11 2h11m-11 2h11m-11 2h11m-11 2h11m-11 2h11m-11 2h11m-11 2h11m-11 2h11m-11 2h11m-11 2h11m-11 2h11m-11 2h11m-11 2h11m-11 2h11m-11 2h11m-11 2h11m-11 2h11m-11 2h11m-11 2h11m-11 2h11m-11 2h11m-11 2h11m-11 2h11m-11 2h11m-11 2h11m-11 2h11" stroke-width="1" stroke-dasharray="0 1 1 1 1 1 1 1 1 1 1 13"/>
<path d="M261 42.5h11m-11 4h11m-11 4h11m-11 4h11m-11 4h11m-11 4h11m-11 4h11m-11 4h11m-11 4h11m-11 4h11m-11 4h11m-11 4h11m-11 4h11m-11 4h11m-11 4h11m-11 4h11m-11 4h11m-11 4h11" stroke-width="1" stroke-dasharray="1 1 3 1 3 1 1 12"/>
<path d="M261 113.5h11m-11 2h11m-11 2h11m-11 2h11m-11 2h11m-11 2h11m-11 2h11m-11 2h11m-11 2h11m-11 2h11m-11 2h11m-11 2h11m-11 2h11" stroke-width="1" stroke-dasharray="2 1 3 1 3 13"/>
<path d="M261 114.5h11m-11 2h11m-11 2h11m-11 2h11m-11 2h11m-11 2h11m-11 2h11m-11 2h11m-11 2h11m-11 2h11m-11 2h11m-11 2h11" stroke-width="1" stroke-dasharray="0 1 3 1 3 1 2 12"/>
<path d="M261 138.5h11m-11 4h11m-11 4h11m-11 4h11m-11 4h11m-11 4h11m-11 4h11m-11 4h11m-11 4h11m-11 4h11m-11 4h11m-11 4h11" stroke-width="1" stroke-dasharray="2 1 3 1 3 13"/>
<path d="M261 139.5h11m-11 2h11m-11 2h11m-11 2h11m-11 2h11m-11 2h11m-11 2h11m-11 2h11m-11 2h11m-11 2h11m-11 2h11m-11 2h11m-11 2h11m-11 2h11m-11 2h11m-11 2h11m-11 2h11m-11 2h11m-11 2h11m-11 2h11m-11 2h11m-11 2h11m-11 2h11m-11 2h11" stroke-width="1"/>
<path d="M261 140.5h11m-11 4h11m-11 4h11m-11 4h11m-11 4h11m-11 4h11m-11 4h11m-11 4h11m-11 4h11m-11 4h11m-11 4h11m-11 4h11" stroke-width="1" stroke-dasharray="0 1 3 1 3 1 2 12"/>
<path d="M261 186.5h11m-11 2h11m-11 2h11m-11 2h11m-11 2h11m-11 2h11m-11 2h11m-11 2h11m-11 2h11m-11 2h11m-11 2h11m-11 2h11m-11 2h11m-11 2h11m-11 2h11m-11 2h11m-11 2h11m-11 2h11m-11 2h11" stroke-width="1"/>
<path d="M261 228.5h11" stroke-width="9" stroke-dasharray="2 2 2 2 2 13"/>
<path d="M261 233.5h11m-11 4h11" stroke-width="1" stroke-dasharray="0 1 1 1 1 1 1 1 1 1 1 13"/>
<path d="M261 234.5h11m-11 2h11m-11 2h11" stroke-width="1" stroke-dasharray="1 1 1 1 1 1 1 1 1 1 1 12"/>
<path d="M261 235.5h11" stroke-width="1" stroke-dasharray="0 1 1 1 1 3 1 1 1 13"/>
<path d="M261 239.5h11" stroke-width="1" stroke-dasharray="0 3 1 1 1 1 1 15"/>
<path d="M261 240.5h11m-11 4h11" stroke-width="1" stroke-dasharray="0 2 2 2 2 2 1 12"/>
<path d="M261 241.5h11m-11 4h11" stroke-width="1" stroke-dasharray="0 1 2 2 2 2 2 12"/>
<path d="M261 242.5h11m-11 4h11" stroke-width="1" stroke-dasharray="2 2 2 2 2 13"/>
<path d="M261 243.5h11" stroke-width="1" stroke-dasharray="1 2 2 2 2 14"/>
<path d="M261 247.5h11" stroke-width="1" stroke-dasharray="0 1 7 1 2 12"/>
<path d="M261 249h11" stroke-width="2"/>
<path d="M289 7.5h11m-11 2h11m-11 2h11m-11 2h11m-11 2h11m-11 2h11m-11 2h11m-11 2h11m-11 2h11m-11 2h11m-11 2h11m-11 2h11m-11 2h11m-11 2h11m-11 2h11m-11 2h11m-11 2h11m-11 2h11m-11 2h11m-11 2h11m-11 2h11m-11 2h11m-11 2h11m-11 2h11m-11 2h11m-11 2h11m-11 2h11m-11 2h11m-11 2h11m-11 2h11m-11 2h11m-11 2h11m-11 2h11m-11 2h11m-11 2h11m-11 2h11m-11 2h11m-11 2h11m-11 2h11m-11 2h11m-11 2h11m-11 2h11m-11 2h11m-11 2h11" stroke-width="1" stroke-dasharray="0 1 1 1 1 1 1 1 1 1 1 13"/>
<path d="M289 8.5h11m-11 2h11m-11 2h11m-11 2h11m-11 2h11m-11 2h11m-11 2h11m-11 2h11m-11 2h11m-11 2h11m-11 2h11m-11 2h11m-11 2h11m-11 2h11m-11 2h11m-11 2h11m-11 2h11m-11 2h11m-11 2h11m-11 2h11m-11 2h11m-11 2h11m-11 2h11m-11 2h11m-11 2h11m-11 2h11m-11 2h11m-11 2h11m-11 2h11m-11 2h11m-11 2h11m-11 2h11m-11 2h11m-11 2h11m-11 2h11m-11 2h11m-11 2h11m-11 2h11m-11 2h11m-11 2h11m-11 2h11m-11 2h11m-11 2h11" stroke-width="1" stroke-dasharray="1 1 1 1 1 1 1 1 1 1 1 12"/>
<path d="M289 94.5h11m-11 4h11m-11 4h11m-11 4h11m-11 4h11m-11 4h11m-11 4h11" stroke-width="1" stroke-dasharray="1 1 3 1 3 1 1 12"/>
<path d="M289 95.5h11m-11 2h11m-11 2h11m-11 2h11m-11 2h11m-11 2h11m-11 2h11m-11 2h11m-11 2h11m-11 2h11m-11 2h11m-11 2h11m-11 2h11" stroke-width="1" stroke-dasharray="0 1 1 1 1 1 1 1 1 1 1 13"/>
<path d="M289 96.5h11m-11 4h11m-11 4h11m-11 4h11m-11 4h11m-11 4h11m-11 4h11" stroke-width="1" stroke-dasharray="3 1 3 1 3 12"/>
<path d="M289 121.5h11m-11 2h11m-11 2h11m-11 2h11m-11 2h11m-11 2h11m-11 2h11m-11 2h11m-11 2h11m-11 2h11m-11 2h11m-11 2h11m-11 2h11m-11 2h11" stroke-width="1" stroke-dasharray="2 1 3 1 3 13"/>
<path d="M289 122.5h11m-11 2h11m-11 2h11m-11 2h11m-11 2h11m-11 2h11m-11 2h11m-11 2h11m-11 2h11m-11 2h11m-11 2h11m-11 2h11m-11 2h11m-11 2h11" stroke-width="1" stroke-dasharray="0 1 3 1 3 1 2 12"/>
<path d="M289 149.5h11m-11 2h11m-11 2h11m-11 2h11m-11 2h11m-11 2h11m-11 2h11m-11 2h11m-11 2h11m-11 2h11m-11 2h11m-11 2h11m-11 2h11m-11 2h11m-11 2h11m-11 2h11m-11 2h11m-11 2h11m-11 2h11m-11 2h11" stroke-width="1"/>
<path d="M289 150.5h11m-11 4h11m-11 4h11m-11 4h11m-11 4h11m-11 4h11m-11 4h11m-11 4h11m-11 4h11m-11 4h11" stroke-width="1" stroke-dasharray="2 1 3 1 3 13"/>
<path d="M289 152.5h11m-11 4h11m-11 4h11m-11 4h11m-11 4h11m-11 4h11m-11 4h11m-11 4h11m-11 4h11" stroke-width="1" stroke-dasharray="0 1 3 1 3 1 2 12"/>
<path d="M289 188.5h11m-11 2h11m-11 2h11m-11 2h11m-11 2h11m-11 2h11m-11 2h11m-11 2h11m-11 2h11m-11 2h11m-11 2h11m-11 2h11" stroke-width="1"/>
<path d="M289 217h11" stroke-width="10" stroke-dasharray="2 2 2 2 2 13"/>
<path d="M289 222.5h11m-11 2h11m-11 2h11m-11 2h11m-11 2h11m-11 2h11m-11 2h11m-11 2h11" stroke-width="1" stroke-dasharray="1 1 1 1 1 1 1 1 1 1 1 12"/>
<path d="M289 223.5h11m-11 8h11" stroke-width="1" stroke-dasharray="0 1 1 1 1 3 1 1 1 13"/>
<path d="M289 225.5h11m-11 4h11m-11 4h11" stroke-width="1" stroke-dasharray="0 1 1 1 1 1 1 1 1 1 1 13"/>
<path d="M289 227.5h11m-11 8h11" stroke-width="1" stroke-dasharray="0 3 1 1 1 1 1 15"/>
<path d="M289 237.5h11m-11 4h11m-11 4h11" stroke-width="1" stroke-dasharray="0 1 2 2 2 2 2 12"/>
<path d="M289 238.5h11m-11 4h11m-11 4h11" stroke-width="1" stroke-dasharray="2 2 2 2 2 13"/>
<path d="M289 239.5h11m-11 4h11m-11 4h11" stroke-width="1" stroke-dasharray="1 2 2 2 2 14"/>
<path d="M289 240.5h11m-11 4h11" stroke-width="1" stroke-dasharray="0 2 2 2 2 2 1 12"/>
<path d="M289 249h11" stroke-width="2"/>
<path d="M60 6h1v250h-1zM56 250h253v1h-253zM56 6h4v1h-4zM56 31h4v1h-4zM56 55h4v1h-4zM56 79h4v1h-4zM56 104h4v1h-4zM56 128h4v1h-4zM56 153h4v1h-4zM56 177h4v1h-4zM56 201h4v1h-4zM56 226h4v1h-4zM87 251h1v5h-1zM115 251h1v5h-1zM143 251h1v5h-1zM170 251h1v5h-1zM198 251h1v5h-1zM225 251h1v5h-1zM253 251h1v5h-1zM280 251h1v5h-1zM308 251h1v5h-1z" fill="#868686" stroke="none"/>
<path d="M330 68.5h7m-7 2h7m-7 2h7m-7 2h7" stroke-width="1" stroke-dasharray="0 1 1 1 1 1 1 9"/>
<path d="M330 69.5h7m-7 2h7m-7 2h7m-7 2h7" stroke-width="1" stroke-dasharray="1 1 1 1 1 1 1 8"/>
<path d="M330 93.5h7m-7 2h7m-7 2h7m-7 2h7" stroke-width="1" stroke-dasharray="1 1 1 1 1 1 1 8"/>
<path d="M330 94.5h7m-7 4h7" stroke-width="1" stroke-dasharray="0 1 3 1 2 8"/>
<path d="M330 96.5h7" stroke-width="1" stroke-dasharray="2 1 3 9"/>
<path d="M330 117.5h7m-7 2h7m-7 2h7m-7 2h7" stroke-width="1" stroke-dasharray="1 1 3 1 1 8"/>
<path d="M330 118.5h7m-7 2h7m-7 2h7" stroke-width="1" stroke-dasharray="3 1 3 8"/>
<path d="M330 141.5h7m-7 2h7m-7 2h7m-7 2h7" stroke-width="1"/>
<path d="M330 142.5h7m-7 4h7" stroke-width="1" stroke-dasharray="1 1 3 1 1 8"/>
<path d="M330 144.5h7" stroke-width="1" stroke-dasharray="3 1 3 8"/>
<path d="M330 166.5h7m-7 2h7m-7 2h7" stroke-width="1"/>
<path d="M330 192.5h7" stroke-width="7" stroke-dasharray="1 2 2 10"/>
<path d="M330 213.5h7m-7 4h7" stroke-width="1" stroke-dasharray="1 1 1 1 1 1 1 8"/>
<path d="M330 214.5h7m-7 2h7m-7 2h7" stroke-width="1" stroke-dasharray="0 1 1 1 1 1 1 9"/>
<path d="M330 215.5h7" stroke-width="1" stroke-dasharray="1 1 1 3 1 8"/>
<path d="M330 219.5h7" stroke-width="1" stroke-dasharray="0 2 1 1 1 1 1 8"/>
<path d="M330 237.5h7m-7 4h7" stroke-width="1" stroke-dasharray="2 2 2 9"/>
<path d="M330 238.5h7m-7 4h7" stroke-width="1" stroke-dasharray="1 2 2 10"/>
<path d="M330 239.5h7m-7 4h7" stroke-width="1" stroke-dasharray="0 2 2 2 1 8"/>
<path d="M330 240.5h7" stroke-width="1" stroke-dasharray="0 1 2 2 2 8"/>
<path d="M330 261.5h7m-7 1h7m-7 2h7m-7 1h7m-7 1h7m-7 1h7m-7 1h7" stroke-width="1"/>
<path d="M330 263.5h7" stroke-width="1" stroke-dasharray="3 1 3 8"/>
</g>
<text class="ax f" x="240" y="53.9" text-anchor="end" textLength="145" lengthAdjust="spacingAndGlyphs">100%</text>
<text class="ax f" x="240" y="172.9" text-anchor="end" textLength="112" lengthAdjust="spacingAndGlyphs">90%</text>
<text class="ax f" x="240" y="296.9" text-anchor="end" textLength="112" lengthAdjust="spacingAndGlyphs">80%</text>
<text class="ax f" x="240" y="415.9" text-anchor="end" textLength="112" lengthAdjust="spacingAndGlyphs">70%</text>
<text class="ax f" x="240" y="539.9" text-anchor="end" textLength="112" lengthAdjust="spacingAndGlyphs">60%</text>
<text class="ax f" x="240" y="658.9" text-anchor="end" textLength="112" lengthAdjust="spacingAndGlyphs">50%</text>
<text class="ax f" x="240" y="777.9" text-anchor="end" textLength="112" lengthAdjust="spacingAndGlyphs">40%</text>
<text class="ax f" x="240" y="901.9" text-anchor="end" textLength="112" lengthAdjust="spacingAndGlyphs">30%</text>
<text class="ax f" x="240" y="1020.9" text-anchor="end" textLength="112" lengthAdjust="spacingAndGlyphs">20%</text>
<text class="ax f" x="240" y="1144.9" text-anchor="end" textLength="112" lengthAdjust="spacingAndGlyphs">10%</text>
<text class="ax f" x="236" y="1263.9" text-anchor="end" textLength="78" lengthAdjust="spacingAndGlyphs">0%</text>
<text class="ax f" x="372.5" y="1348" text-anchor="middle">1</text>
<text class="ax f" x="506" y="1348" text-anchor="middle">2</text>
<text class="ax f" x="645" y="1348" text-anchor="middle">3</text>
<text class="ax f" x="778.5" y="1348" text-anchor="middle">4</text>
<text class="ax f" x="917.5" y="1348" text-anchor="middle">5</text>
<text class="ax f" x="1056" y="1348" text-anchor="middle">6</text>
<text class="ax f" x="1190" y="1348" text-anchor="middle">7</text>
<text class="ax f" x="1329" y="1348" text-anchor="middle">8</text>
<text class="ax f" x="1463" y="1348" text-anchor="middle">9</text>
<text class="lg f" x="1688.5" y="376.5" textLength="332.6" lengthAdjust="spacingAndGlyphs">eco-tourism</text>
<text class="lg f" x="1688.5" y="495" textLength="243.5" lengthAdjust="spacingAndGlyphs">lanscape</text>
<text class="lg f" x="1688.5" y="614.25" textLength="323" lengthAdjust="spacingAndGlyphs">biodiversity</text>
<text class="lg f" x="1688.5" y="738" textLength="650" lengthAdjust="spacingAndGlyphs">brooding and migration</text>
<text class="lg f" x="1688.5" y="855.6" textLength="417" lengthAdjust="spacingAndGlyphs">wildlife habitat</text>
<text class="lg f" x="1688.5" y="975.3" textLength="461" lengthAdjust="spacingAndGlyphs">vegetation cover</text>
<text class="lg f" x="1688.5" y="1094.2" textLength="417.7" lengthAdjust="spacingAndGlyphs">erosion control</text>
<text class="lg f" x="1688.5" y="1213.5" textLength="784.7" lengthAdjust="spacingAndGlyphs">agri and industrial water use</text>
<text class="lg f" x="1688.5" y="1332.4" textLength="732" lengthAdjust="spacingAndGlyphs">water quantity and quality</text>
<text class="lg f" x="321.4" y="1451.5" textLength="171.6" lengthAdjust="spacingAndGlyphs">Weihe</text>
<text class="lg f" x="514.7" y="1451.5" textLength="123.2" lengthAdjust="spacingAndGlyphs">river</text>
<text class="lg f" x="659.5" y="1451.5" textLength="398.5" lengthAdjust="spacingAndGlyphs">environmental</text>
<text class="lg f" x="1075.5" y="1451.5" textLength="155.5" lengthAdjust="spacingAndGlyphs">issues</text>
<text class="lg f" x="1258.5" y="1451.5" textLength="115.7" lengthAdjust="spacingAndGlyphs">rank</text>
<text class="lg f" x="1394.5" y="1451.5" textLength="136.0" lengthAdjust="spacingAndGlyphs">score</text>
<text class="lg f" x="1556.0" y="1451.5" textLength="128.5" lengthAdjust="spacingAndGlyphs">from</text>
<text class="lg f" x="1705.0" y="1451.5" textLength="223.0" lengthAdjust="spacingAndGlyphs">most"1"</text>
<text class="lg f" x="1948.4" y="1451.5" textLength="49.1" lengthAdjust="spacingAndGlyphs">to</text>
<text class="lg f" x="2020.4" y="1451.5" textLength="218.1" lengthAdjust="spacingAndGlyphs">least"9"</text>
<text class="lg f" x="1136.5" y="1530" textLength="296" lengthAdjust="spacingAndGlyphs">concerning</text>
<g class="f"><text class="lg" transform="translate(59,1008) rotate(-90)" x="0" y="0" textLength="735" lengthAdjust="spacingAndGlyphs">Percentage of respondents</text></g>
</svg>
</body></html>
